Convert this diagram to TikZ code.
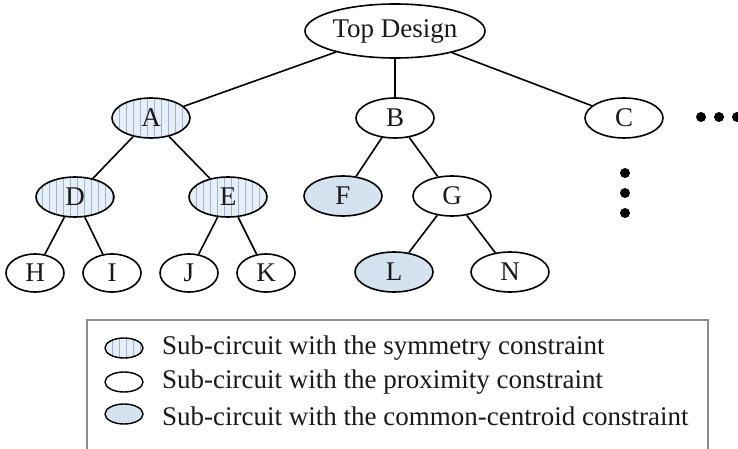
\documentclass[tikz,border=0pt]{standalone}
\usepackage{fontspec}
\setmainfont{Liberation Serif}
\usetikzlibrary{shapes.geometric,patterns.meta}
\definecolor{symfill}{HTML}{E6EEF8}
\definecolor{symline}{HTML}{A3B3D3}
\definecolor{ccfill}{HTML}{D5E3F0}
\definecolor{boxline}{HTML}{8C8C8C}
\begin{document}
\begin{tikzpicture}[x=1pt,y=-1pt,
 every node/.style={font=\fontsize{27}{32}\selectfont, text=black!90},
 nd/.style={ellipse,draw,line width=1.6pt,inner sep=0pt,minimum width=78pt,minimum height=40pt},
 sm/.style={nd,minimum width=58pt,minimum height=38pt},
 sym/.style={preaction={fill=symfill},preaction={pattern={Lines[angle=90,distance=7pt,line width=0.8pt]},pattern color=symline}},
 cc/.style={fill=ccfill},
 edge/.style={line width=1.6pt},
 dot/.style={circle,fill=black,inner sep=0pt,minimum size=10pt},
 icon/.style={ellipse,draw,line width=1.4pt,inner sep=0pt,minimum width=38pt,minimum height=20pt},
 legtext/.style={anchor=west,inner sep=0pt}]
\useasboundingbox (0,0) rectangle (738,449);
% tree nodes
\node[nd,minimum width=180pt,minimum height=54pt] (top) at (395,31) {Top Design};
\node[nd,sym] (A) at (151,118) {A};
\node[nd] (B) at (395,118) {B};
\node[nd] (C) at (624,118) {C};
\node[nd,sym] (D) at (75,197) {D};
\node[nd,sym] (E) at (228,197) {E};
\node[nd,cc] (F) at (343,196) {F};
\node[nd] (G) at (452,196) {G};
\node[sm] (H) at (35,273) {H};
\node[sm] (I) at (112,273) {I};
\node[sm] (J) at (189,273) {J};
\node[sm] (K) at (266,273) {K};
\node[nd,cc] (L) at (394,272) {L};
\node[nd] (N) at (510,272) {N};
% edges
\draw[edge] (top) -- (A);
\draw[edge] (top) -- (B);
\draw[edge] (top) -- (C);
\draw[edge] (A) -- (D);
\draw[edge] (A) -- (E);
\draw[edge] (B) -- (F);
\draw[edge] (B) -- (G);
\draw[edge] (D) -- (H);
\draw[edge] (D) -- (I);
\draw[edge] (E) -- (J);
\draw[edge] (E) -- (K);
\draw[edge] (G) -- (L);
\draw[edge] (G) -- (N);
% ellipsis dots
\node[dot] (h1) at (701,117) {};
\node[dot] (h2) at (719,117) {};
\node[dot] (h3) at (737,117) {};
\node[dot] (v1) at (625,173) {};
\node[dot] (v2) at (625,193) {};
\node[dot] (v3) at (625,213) {};
% legend
\draw[boxline,line width=1.2pt] (87,455) -- (87,320) -- (708,320) -- (708,455);
\node[icon,sym] (i1) at (124,348) {};
\node[icon] (i2) at (124,382) {};
\node[icon,cc] (i3) at (124,414) {};
\node[legtext] (t1) at (162,348) {Sub-circuit with the symmetry constraint};
\node[legtext] (t2) at (162,382) {Sub-circuit with the proximity constraint};
\node[legtext] (t3) at (162,416) {Sub-circuit with the common-centroid constraint};
\end{tikzpicture}
\end{document}
